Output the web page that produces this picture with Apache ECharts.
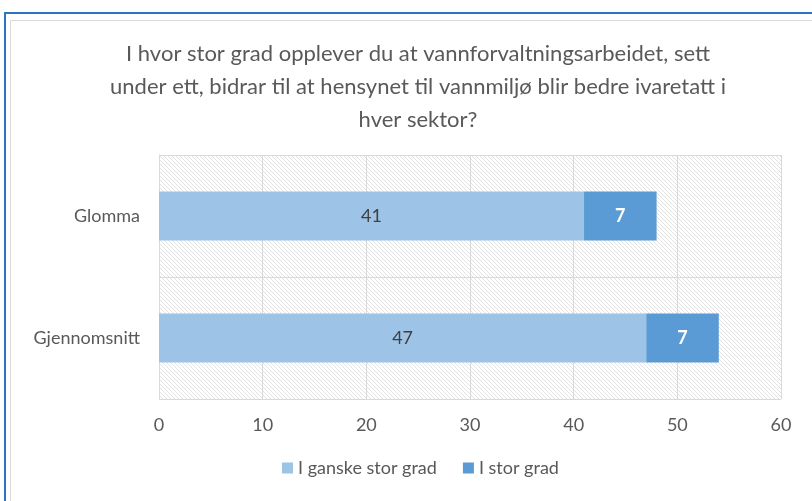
<!DOCTYPE html>
<html style="height: 100%; margin: 0;">
<head>
<meta charset="utf-8" />
<title></title>
<script src="https://cdn.jsdelivr.net/npm/echarts@6/dist/echarts.min.js"></script>
</head>
<body style="height: 100%; margin: 0; background: #fff;">
<div id="main" style="width: 812px; height: 501px;"></div>
<script type="text/javascript">
var categories = ['Glomma', 'Gjennomsnitt'];
var ganskeStor = [41, 47];
var stor = [7, 7];
var seriesNames = ['I ganske stor grad', 'I stor grad'];
var titleText = 'I hvor stor grad opplever du at vannforvaltningsarbeidet, sett\nunder ett, bidrar til at hensynet til vannmiljø blir bedre ivaretatt i\nhver sektor?';

// diagonal hatch for the plot area
var hatch = document.createElement('canvas');
hatch.width = 4;
hatch.height = 4;
var ctx = hatch.getContext('2d');
ctx.strokeStyle = '#e2e2e2';
ctx.lineWidth = 1;
ctx.beginPath();
ctx.moveTo(-1, -1); ctx.lineTo(5, 5);
ctx.moveTo(-1, 3); ctx.lineTo(1, 5);
ctx.moveTo(3, -1); ctx.lineTo(5, 1);
ctx.stroke();

var font = 'Lato, "Open Sans", sans-serif';
var myChart = echarts.init(document.getElementById('main'));
myChart.setOption({
    animation: false,
    textStyle: { fontFamily: font },
    graphic: [
        { type: 'rect', shape: { x: 5, y: 13, width: 900, height: 600 },
          style: { fill: 'none', stroke: '#2e75c0', lineWidth: 2 }, silent: true },
        { type: 'rect', shape: { x: 10.5, y: 20.5, width: 900, height: 600 },
          style: { fill: 'none', stroke: '#d9d9d9', lineWidth: 1 }, silent: true }
    ],
    title: {
        text: titleText,
        left: 413,
        top: 32,
        textAlign: 'center',
        textStyle: { fontFamily: font, fontSize: 22, fontWeight: 'normal', color: '#595959', lineHeight: 33 }
    },
    legend: {
        data: seriesNames,
        bottom: 19,
        left: 277,
        itemWidth: 11,
        itemHeight: 11,
        itemGap: 26,
        icon: 'rect',
        textStyle: { fontFamily: font, fontSize: 18, color: '#595959' }
    },
    grid: {
        left: 159,
        right: 31,
        top: 155,
        bottom: 102,
        show: true,
        borderWidth: 0,
        backgroundColor: { image: hatch, repeat: 'repeat' }
    },
    xAxis: {
        type: 'value',
        min: 0,
        max: 60,
        interval: 10,
        axisLine: { show: false },
        axisTick: { show: false },
        axisLabel: { fontSize: 18, color: '#595959', margin: 17, fontFamily: font },
        splitLine: { show: true, lineStyle: { color: '#d9d9d9', width: 1 } }
    },
    yAxis: {
        type: 'category',
        data: categories,
        inverse: true,
        axisLine: { show: true, lineStyle: { color: '#d9d9d9' } },
        axisTick: { show: false },
        axisLabel: { fontSize: 18, color: '#595959', margin: 19, fontFamily: font },
        splitLine: { show: true, lineStyle: { color: '#d9d9d9', width: 1 } }
    },
    series: [{
        name: seriesNames[0],
        type: 'bar',
        stack: 'total',
        barWidth: '40%',
        itemStyle: { color: '#9dc3e6' },
        label: { show: true, position: 'inside', fontSize: 18, color: '#404040', fontFamily: font },
        data: ganskeStor
    }, {
        name: seriesNames[1],
        type: 'bar',
        stack: 'total',
        barWidth: '40%',
        itemStyle: { color: '#5b9bd5' },
        label: { show: true, position: 'inside', fontSize: 18, fontWeight: 'bold', color: '#ffffff', fontFamily: font },
        data: stor
    }]
});
</script>
</body>
</html>
